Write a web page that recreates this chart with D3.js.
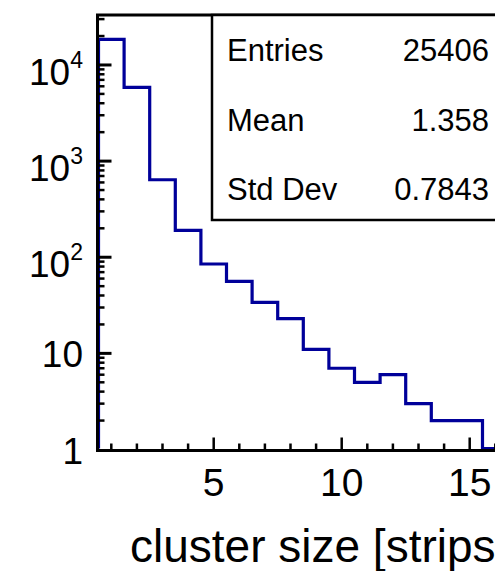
<!DOCTYPE html>
<html>
<head>
<meta charset="utf-8">
<script src="https://cdnjs.cloudflare.com/ajax/libs/d3/7.8.5/d3.min.js"></script>
<style>
  body { margin: 0; background: #fff; }
  svg { display: block; }
  text { font-family: "Liberation Sans", Arial, Helvetica, sans-serif; fill: #000; }
</style>
</head>
<body>
<script>
let w = 495;
let h = 571;

// histogram: bin centres (cluster size) and entries per bin
let binCenters = [1, 2, 3, 4, 5, 6, 7, 8, 9, 10, 11, 12, 13, 14, 15, 16];
let counts = [18490, 5850, 640, 190, 85, 56, 34, 23, 11, 7, 5, 6, 3, 2, 2, 0];

let xMajor = [5, 10, 15];
let yMajorExp = [0, 1, 2, 3, 4];
let yLabels = ["1", "10", "10", "10", "10"];
let ySups = ["", "", "2", "3", "4"];

let statNames = ["Entries", "Mean", "Std Dev"];
let statValues = ["25406", "1.358", "0.7843"];

let xTitle = "cluster size [strips]";

let blue = "#00009a";

let x = d3.scaleLinear().domain([0.5, 16.5]).range([98.5, 98.5 + 16 * 25.6]);
let y = d3.scaleLog().domain([1, 33100]).range([449.5, 15]);

let svg = d3.select("body").append("svg").attr("width", w).attr("height", h);

// histogram outline
let pts = [{ x: 0.5, c: 0 }];
binCenters.forEach((b, i) => pts.push({ x: b - 0.5, c: counts[i] }));
pts.push({ x: binCenters[binCenters.length - 1] + 0.5, c: counts[counts.length - 1] });

let line = d3.line()
  .x((d) => x(d.x))
  .y((d) => (d.c > 0 ? y(d.c) : y(1) - 1))
  .curve(d3.curveStepAfter);

svg.append("path")
  .attr("d", line(pts))
  .attr("fill", "none")
  .attr("stroke", blue)
  .attr("stroke-width", 3.2);

// frame
let x0 = x(0.5) - 1;
let yb = y(1) + 1;
let g = svg.append("g").attr("stroke", "#000").attr("fill", "none");
g.append("line").attr("x1", x0).attr("x2", x0).attr("y1", 15).attr("y2", yb + 1.5).attr("stroke-width", 3);
g.append("line").attr("x1", x0 - 1.5).attr("x2", w + 20).attr("y1", yb).attr("y2", yb).attr("stroke-width", 3);
g.append("line").attr("x1", x0 - 1.5).attr("x2", w + 20).attr("y1", 15).attr("y2", 15).attr("stroke-width", 3);

// y ticks (log)
for (let e = 0; e <= 4; e++) {
  for (let k = 1; k <= 9; k++) {
    let v = k * Math.pow(10, e);
    if (v > y.domain()[1]) break;
    if (e == 0 && k == 1) continue;
    g.append("line")
      .attr("x1", x0).attr("x2", x0 + (k == 1 ? 14 : 7))
      .attr("y1", y(v)).attr("y2", y(v))
      .attr("stroke-width", k == 1 ? 3 : 2.5);
  }
}

// x ticks
d3.range(1, 17).forEach((v) => {
  let major = xMajor.includes(v);
  g.append("line")
    .attr("x1", x(v)).attr("x2", x(v))
    .attr("y1", yb).attr("y2", yb - (major ? 13 : 7))
    .attr("stroke-width", 2.5);
});

// y labels
yMajorExp.forEach((e, i) => {
  let t = svg.append("text")
    .attr("x", 83)
    .attr("text-anchor", "end")
    .style("font-size", "37px");
  let yy = y(Math.pow(10, e));
  if (ySups[i]) {
    t.attr("y", yy + 20);
    t.append("tspan").text(yLabels[i]);
    t.append("tspan").attr("dy", -17).style("font-size", "23px").text(ySups[i]);
  } else {
    t.attr("y", yy + 14).text(yLabels[i]);
  }
});

// x labels
xMajor.forEach((v) => {
  svg.append("text")
    .attr("x", x(v))
    .attr("y", 496)
    .attr("text-anchor", "middle")
    .style("font-size", "39px")
    .text(v);
});

svg.append("text")
  .attr("x", 130)
  .attr("y", 562)
  .style("font-size", "46px")
  .text(xTitle);

// stats box
svg.append("rect")
  .attr("x", 212).attr("y", 15)
  .attr("width", 320).attr("height", 205)
  .attr("fill", "#fff")
  .attr("stroke", "#000")
  .attr("stroke-width", 2.5);

statNames.forEach((s, i) => {
  let by = 61 + i * 69.5;
  svg.append("text").attr("x", 227).attr("y", by).style("font-size", "31px").text(s);
  svg.append("text").attr("x", 489).attr("y", by).attr("text-anchor", "end").style("font-size", "31px").text(statValues[i]);
});
</script>
</body>
</html>
